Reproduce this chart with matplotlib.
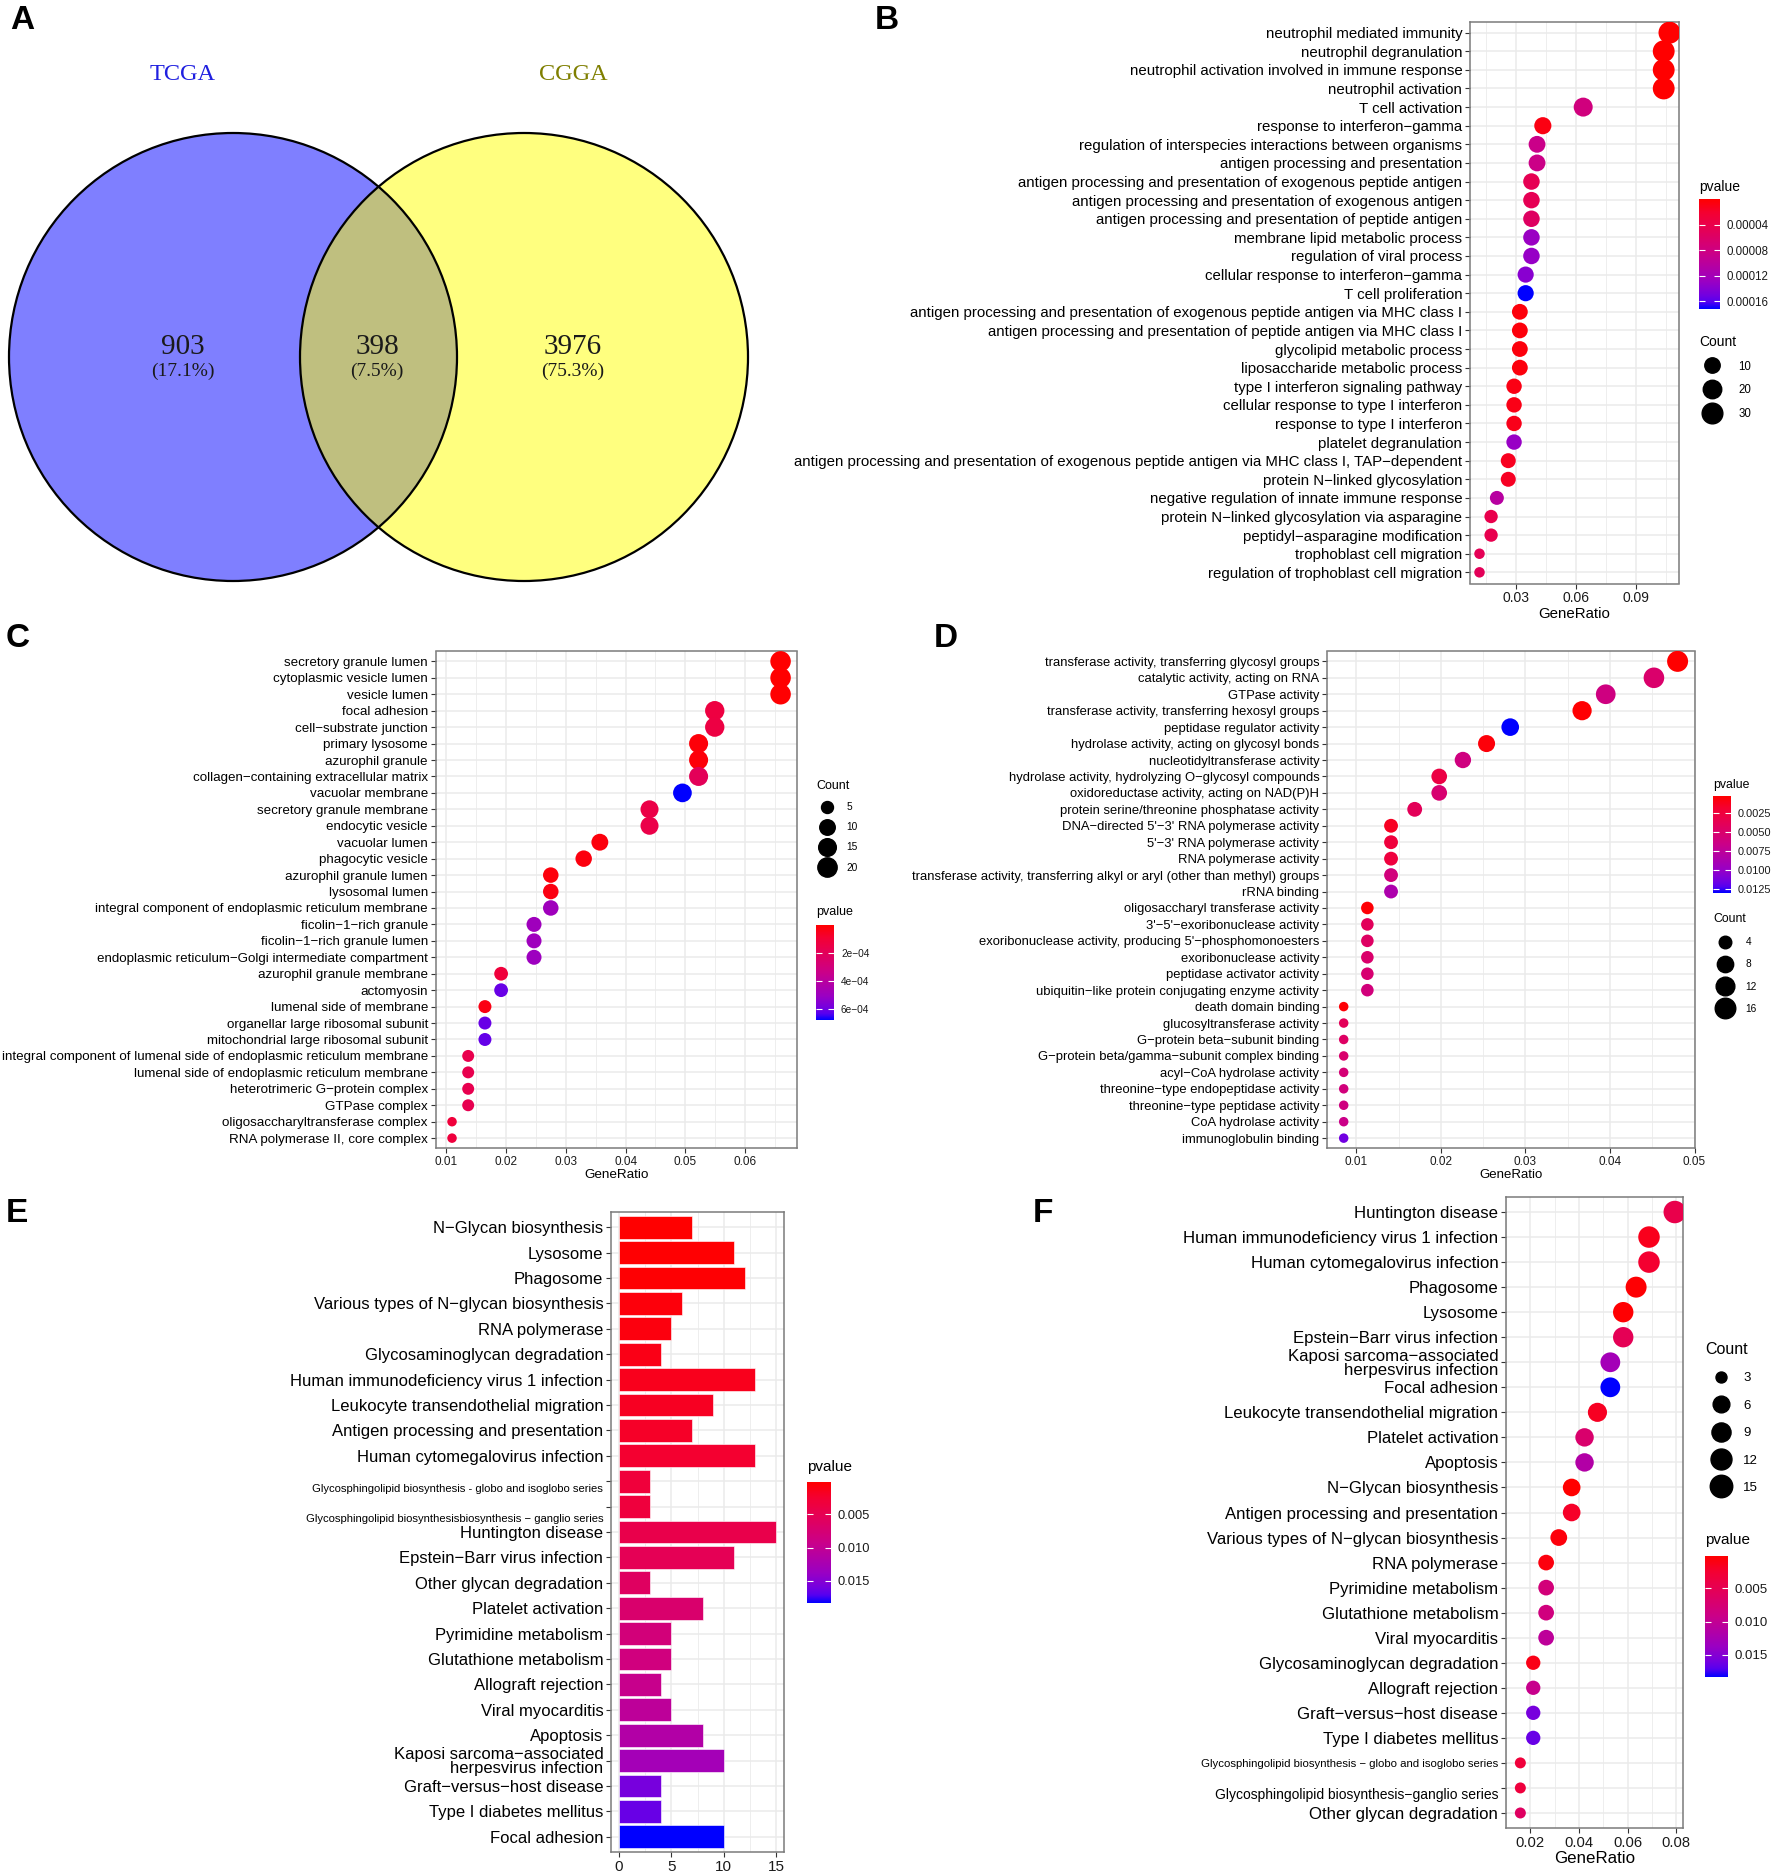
import numpy as np
import matplotlib
matplotlib.use("Agg")
import matplotlib.pyplot as plt
from matplotlib.colors import LinearSegmentedColormap, Normalize
from matplotlib.cm import ScalarMappable
from matplotlib.lines import Line2D
from matplotlib.patches import Circle
from matplotlib.transforms import ScaledTranslation

W, H, DPI = 1772, 1871, 100

# ---------------- data ----------------
venn_names = ["TCGA", "CGGA"]
venn_counts = [903, 398, 3976]  # TCGA only, both, CGGA only

B_terms = [
    "neutrophil mediated immunity",
    "neutrophil degranulation",
    "neutrophil activation involved in immune response",
    "neutrophil activation",
    "T cell activation",
    "response to interferon\u2212gamma",
    "regulation of interspecies interactions between organisms",
    "antigen processing and presentation",
    "antigen processing and presentation of exogenous peptide antigen",
    "antigen processing and presentation of exogenous antigen",
    "antigen processing and presentation of peptide antigen",
    "membrane lipid metabolic process",
    "regulation of viral process",
    "cellular response to interferon\u2212gamma",
    "T cell proliferation",
    "antigen processing and presentation of exogenous peptide antigen via MHC class I",
    "antigen processing and presentation of peptide antigen via MHC class I",
    "glycolipid metabolic process",
    "liposaccharide metabolic process",
    "type I interferon signaling pathway",
    "cellular response to type I interferon",
    "response to type I interferon",
    "platelet degranulation",
    "antigen processing and presentation of exogenous peptide antigen via MHC class I, TAP\u2212dependent",
    "protein N\u2212linked glycosylation",
    "negative regulation of innate immune response",
    "protein N\u2212linked glycosylation via asparagine",
    "peptidyl\u2212asparagine modification",
    "trophoblast cell migration",
    "regulation of trophoblast cell migration",
]
B_count = [37, 36, 36, 36, 22, 15, 14, 14, 13, 13, 13, 13, 13, 12, 12,
           11, 11, 11, 11, 10, 10, 10, 10, 9, 9, 7, 6, 6, 4, 4]
B_ratio = [0.1066, 0.1037, 0.1037, 0.1037, 0.0634, 0.0432, 0.0403, 0.0403,
           0.0375, 0.0375, 0.0375, 0.0375, 0.0375, 0.0346, 0.0346, 0.0317,
           0.0317, 0.0317, 0.0317, 0.0288, 0.0288, 0.0288, 0.0288, 0.0259,
           0.0259, 0.0202, 0.0173, 0.0173, 0.0115, 0.0115]
B_pvalue = [1e-9, 2e-9, 3e-9, 4e-9, 7.7e-5, 8.6e-6, 8.6e-5, 8.4e-5,
            4.6e-5, 4.7e-5, 5.7e-5, 1.29e-4, 1.31e-4, 1.38e-4, 1.72e-4,
            5.0e-6, 5.2e-6, 5.5e-6, 6.0e-6, 9e-6, 1.0e-5, 1.1e-5, 1.30e-4,
            1.4e-5, 1.6e-5, 1.03e-4, 4.1e-5, 4.3e-5, 4.8e-5, 5.0e-5]
B_cbar_ticks = [0.00004, 0.00008, 0.00012, 0.00016]
B_cbar_labels = ["0.00004", "0.00008", "0.00012", "0.00016"]
B_size_breaks = [10, 20, 30]

C_terms = [
    "secretory granule lumen",
    "cytoplasmic vesicle lumen",
    "vesicle lumen",
    "focal adhesion",
    "cell\u2212substrate junction",
    "primary lysosome",
    "azurophil granule",
    "collagen\u2212containing extracellular matrix",
    "vacuolar membrane",
    "secretory granule membrane",
    "endocytic vesicle",
    "vacuolar lumen",
    "phagocytic vesicle",
    "azurophil granule lumen",
    "lysosomal lumen",
    "integral component of endoplasmic reticulum membrane",
    "ficolin\u22121\u2212rich granule",
    "ficolin\u22121\u2212rich granule lumen",
    "endoplasmic reticulum\u2212Golgi intermediate compartment",
    "azurophil granule membrane",
    "actomyosin",
    "lumenal side of membrane",
    "organellar large ribosomal subunit",
    "mitochondrial large ribosomal subunit",
    "integral component of lumenal side of endoplasmic reticulum membrane",
    "lumenal side of endoplasmic reticulum membrane",
    "heterotrimeric G\u2212protein complex",
    "GTPase complex",
    "oligosaccharyltransferase complex",
    "RNA polymerase II, core complex",
]
C_count = [24, 24, 24, 20, 20, 19, 19, 19, 18, 16, 16, 13, 12, 10, 10, 10,
           9, 9, 9, 7, 7, 6, 6, 6, 5, 5, 5, 5, 4, 4]
C_ratio = [0.0659, 0.0659, 0.0659, 0.0549, 0.0549, 0.0522, 0.0522, 0.0522,
           0.0495, 0.0440, 0.0440, 0.0357, 0.0330, 0.0275, 0.0275, 0.0275,
           0.0247, 0.0247, 0.0247, 0.0192, 0.0192, 0.0165, 0.0165, 0.0165,
           0.0137, 0.0137, 0.0137, 0.0137, 0.0110, 0.0110]
C_pvalue = [4e-6, 6e-6, 8e-6, 1.36e-4, 1.40e-4, 2.0e-5, 2.2e-5, 2.0e-4,
            6.8e-4, 1.5e-4, 1.55e-4, 2.7e-5, 3.0e-5, 2.4e-5, 3.4e-5, 4.9e-4,
            4.9e-4, 4.95e-4, 5.0e-4, 1.15e-4, 6.1e-4, 4.0e-5, 6.1e-4, 6.15e-4,
            1.7e-4, 1.72e-4, 1.75e-4, 1.78e-4, 1.2e-4, 1.25e-4]
C_cbar_ticks = [2e-4, 4e-4, 6e-4]
C_cbar_labels = ["2e\u221204", "4e\u221204", "6e\u221204"]
C_size_breaks = [5, 10, 15, 20]

D_terms = [
    "transferase activity, transferring glycosyl groups",
    "catalytic activity, acting on RNA",
    "GTPase activity",
    "transferase activity, transferring hexosyl groups",
    "peptidase regulator activity",
    "hydrolase activity, acting on glycosyl bonds",
    "nucleotidyltransferase activity",
    "hydrolase activity, hydrolyzing O\u2212glycosyl compounds",
    "oxidoreductase activity, acting on NAD(P)H",
    "protein serine/threonine phosphatase activity",
    "DNA\u2212directed 5'\u22123' RNA polymerase activity",
    "5'\u22123' RNA polymerase activity",
    "RNA polymerase activity",
    "transferase activity, transferring alkyl or aryl (other than methyl) groups",
    "rRNA binding",
    "oligosaccharyl transferase activity",
    "3'\u22125'\u2212exoribonuclease activity",
    "exoribonuclease activity, producing 5'\u2212phosphomonoesters",
    "exoribonuclease activity",
    "peptidase activator activity",
    "ubiquitin\u2212like protein conjugating enzyme activity",
    "death domain binding",
    "glucosyltransferase activity",
    "G\u2212protein beta\u2212subunit binding",
    "G\u2212protein beta/gamma\u2212subunit complex binding",
    "acyl\u2212CoA hydrolase activity",
    "threonine\u2212type endopeptidase activity",
    "threonine\u2212type peptidase activity",
    "CoA hydrolase activity",
    "immunoglobulin binding",
]
D_count = [17, 16, 14, 13, 10, 9, 8, 7, 7, 6, 5, 5, 5, 5, 5, 4, 4, 4, 4, 4, 4,
           3, 3, 3, 3, 3, 3, 3, 3, 3]
D_ratio = [0.0480, 0.0452, 0.0395, 0.0367, 0.0282, 0.0254, 0.0226, 0.0198,
           0.0198, 0.0169, 0.0141, 0.0141, 0.0141, 0.0141, 0.0141, 0.0113,
           0.0113, 0.0113, 0.0113, 0.0113, 0.0113, 0.0085, 0.0085, 0.0085,
           0.0085, 0.0085, 0.0085, 0.0085, 0.0085, 0.0085]
D_pvalue = [0.0002, 0.0049, 0.0061, 0.0003, 0.0130, 0.0005, 0.0060, 0.0028,
            0.0052, 0.0039, 0.0013, 0.0024, 0.0025, 0.0058, 0.0085, 0.0004,
            0.0040, 0.0045, 0.0049, 0.0052, 0.0058, 0.0004, 0.0039, 0.0045,
            0.0050, 0.0055, 0.0058, 0.0060, 0.0065, 0.0114]
D_cbar_ticks = [0.0025, 0.0050, 0.0075, 0.0100, 0.0125]
D_cbar_labels = ["0.0025", "0.0050", "0.0075", "0.0100", "0.0125"]
D_size_breaks = [4, 8, 12, 16]

E_terms = [
    "N\u2212Glycan biosynthesis",
    "Lysosome",
    "Phagosome",
    "Various types of N\u2212glycan biosynthesis",
    "RNA polymerase",
    "Glycosaminoglycan degradation",
    "Human immunodeficiency virus 1 infection",
    "Leukocyte transendothelial migration",
    "Antigen processing and presentation",
    "Human cytomegalovirus infection",
    "Glycosphingolipid biosynthesis - globo and isoglobo series",
    "Glycosphingolipid biosynthesisbiosynthesis \u2212 ganglio series",
    "Huntington disease",
    "Epstein\u2212Barr virus infection",
    "Other glycan degradation",
    "Platelet activation",
    "Pyrimidine metabolism",
    "Glutathione metabolism",
    "Allograft rejection",
    "Viral myocarditis",
    "Apoptosis",
    "Kaposi sarcoma\u2212associated\nherpesvirus infection",
    "Graft\u2212versus\u2212host disease",
    "Type I diabetes mellitus",
    "Focal adhesion",
]
E_count = [7, 11, 12, 6, 5, 4, 13, 9, 7, 13, 3, 3, 15, 11, 3, 8, 5, 5, 4, 5,
           8, 10, 4, 4, 10]
E_pvalue = [0.0002, 0.0003, 0.0004, 0.0007, 0.0009, 0.0012, 0.0015, 0.0018,
            0.0021, 0.0024, 0.0033, 0.0034, 0.0045, 0.0052, 0.0060, 0.0070,
            0.0080, 0.0084, 0.0095, 0.0105, 0.0115, 0.0128, 0.0158, 0.0164,
            0.0183]
E_xticks = [0, 5, 10, 15]

F_terms = [
    "Huntington disease",
    "Human immunodeficiency virus 1 infection",
    "Human cytomegalovirus infection",
    "Phagosome",
    "Lysosome",
    "Epstein\u2212Barr virus infection",
    "Kaposi sarcoma\u2212associated\nherpesvirus infection",
    "Focal adhesion",
    "Leukocyte transendothelial migration",
    "Platelet activation",
    "Apoptosis",
    "N\u2212Glycan biosynthesis",
    "Antigen processing and presentation",
    "Various types of N\u2212glycan biosynthesis",
    "RNA polymerase",
    "Pyrimidine metabolism",
    "Glutathione metabolism",
    "Viral myocarditis",
    "Glycosaminoglycan degradation",
    "Allograft rejection",
    "Graft\u2212versus\u2212host disease",
    "Type I diabetes mellitus",
    "Glycosphingolipid biosynthesis \u2212 globo and isoglobo series",
    "Glycosphingolipid biosynthesis\u2212ganglio series",
    "Other glycan degradation",
]
F_count = [15, 13, 13, 12, 11, 11, 10, 10, 9, 8, 8, 7, 7, 6, 5, 5, 5, 5, 4, 4,
           4, 4, 3, 3, 3]
F_ratio = [0.0794, 0.0688, 0.0688, 0.0635, 0.0582, 0.0582, 0.0529, 0.0529,
           0.0476, 0.0423, 0.0423, 0.0370, 0.0370, 0.0317, 0.0265, 0.0265,
           0.0265, 0.0265, 0.0212, 0.0212, 0.0212, 0.0212, 0.0159, 0.0159,
           0.0159]
F_pvalue = [0.0045, 0.0015, 0.0024, 0.0004, 0.0003, 0.0052, 0.0128, 0.0183,
            0.0018, 0.0070, 0.0115, 0.0002, 0.0021, 0.0007, 0.0009, 0.0080,
            0.0084, 0.0105, 0.0012, 0.0095, 0.0158, 0.0164, 0.0033, 0.0034,
            0.0060]
EF_cbar_ticks = [0.005, 0.010, 0.015]
EF_cbar_labels = ["0.005", "0.010", "0.015"]
F_size_breaks = [3, 6, 9, 12, 15]

# ---------------- style ----------------
plt.rcParams["font.family"] = ["Liberation Sans", "DejaVu Sans"]
GRID = "#EBEBEB"
BORDER = "#7A7A7A"
TICK = "#333333"

# ggplot red->blue gradient (interpolated in Lab)
PVAL_CMAP = LinearSegmentedColormap.from_list("pval", [
    (0.0, "#FF0000"), (0.125, "#F40031"), (0.25, "#E8004F"), (0.5, "#CA0089"),
    (0.75, "#9A00C3"), (0.875, "#7300E0"), (0.9375, "#5400F0"), (1.0, "#0000FF")])

fig = plt.figure(figsize=(W / DPI, H / DPI), dpi=DPI)


def px_rect(l, t, r, b):
    return [l / W, 1 - b / H, (r - l) / W, (b - t) / H]


def diam(c, lo, hi, dmin, dmax):
    c = np.clip(np.asarray(c, float), lo, hi)
    return dmin + np.sqrt((c - lo) / (hi - lo)) * (dmax - dmin)


def style_axes(ax, tick_fs, label_fs):
    for s in ax.spines.values():
        s.set_color(BORDER)
        s.set_linewidth(1.1)
    ax.set_axisbelow(True)
    ax.grid(True, which="major", color=GRID, lw=1.1)
    ax.grid(True, which="minor", axis="x", color=GRID, lw=0.6)
    ax.tick_params(which="major", length=3.5, width=0.8, color=TICK, pad=2)
    ax.tick_params(which="minor", length=0)
    ax.tick_params(axis="x", labelsize=tick_fs, labelcolor="#1a1a1a")
    ax.tick_params(axis="y", labelsize=label_fs, labelcolor="black")


def pvalue_bar(norm, rect, title_xy, ticks, labels, title_fs, fs):
    cax = fig.add_axes(px_rect(*rect))
    cb = fig.colorbar(ScalarMappable(norm=norm, cmap=PVAL_CMAP), cax=cax, ticks=ticks)
    cb.ax.invert_yaxis()
    cb.outline.set_visible(False)
    cb.ax.set_yticklabels(labels)
    cb.ax.tick_params(length=4, width=0.8, color="white", direction="in",
                      left=True, right=True, labelsize=fs, pad=5, labelcolor="#1a1a1a")
    fig.text(title_xy[0] / W, 1 - title_xy[1] / H, "pvalue", fontsize=title_fs,
             ha="left", va="top")


def count_legend(breaks, lo, hi, dsize, xy, fs, title_fs, spacing, hl, textpad):
    d = diam(breaks, lo, hi, *dsize)
    handles = [Line2D([], [], ls="", marker="o", color="black",
                      markersize=di * 72 / DPI) for di in d]
    fig.legend(handles, [str(b) for b in breaks], title="Count", loc="upper left",
               bbox_to_anchor=(xy[0] / W, 1 - xy[1] / H), frameon=False,
               alignment="left", fontsize=fs, title_fontsize=title_fs,
               labelspacing=spacing, handlelength=hl, handletextpad=textpad,
               borderpad=0, borderaxespad=0, numpoints=1)


def dot_panel(rect, terms, ratio, count, pval, xticks, xlabels, xminor,
              label_fs, tick_fs, xlab_fs, dsize):
    ax = fig.add_axes(px_rect(*rect))
    n = len(terms)
    y = np.arange(n, 0, -1)
    norm = Normalize(min(pval), max(pval))
    d = diam(count, min(count), max(count), *dsize)
    ax.scatter(ratio, y, s=(d * 72 / DPI) ** 2, c=pval, cmap=PVAL_CMAP, norm=norm,
               linewidths=0, zorder=3)
    span = max(ratio) - min(ratio)
    ax.set_xlim(min(ratio) - 0.05 * span, max(ratio) + 0.05 * span)
    ax.set_ylim(0.4, n + 0.6)
    ax.set_yticks(y)
    ax.set_yticklabels(terms)
    ax.set_xticks(xticks)
    ax.set_xticklabels(xlabels)
    ax.set_xticks(xminor, minor=True)
    style_axes(ax, tick_fs, label_fs)
    ax.set_xlabel("GeneRatio", fontsize=xlab_fs, labelpad=1)
    return ax, norm


def shift_labels(ax, styles):
    # a few pathway labels are smaller and sit a little off their tick
    for lab in ax.get_yticklabels():
        if lab.get_text() in styles:
            fs, dy = styles[lab.get_text()]
            lab.set_fontsize(fs)
            lab.set_transform(lab.get_transform() +
                              ScaledTranslation(0, -dy / DPI, fig.dpi_scale_trans))


# ---------------- A: Venn ----------------
axA = fig.add_axes(px_rect(0, 0, 760, 620))
axA.set_xlim(0, 760)
axA.set_ylim(620, 0)
axA.axis("off")
centers = [(233, 357), (524, 357)]
R = 224
axA.add_patch(Circle(centers[0], R, fc=(0, 0, 1, 0.5), ec="none"))
axA.add_patch(Circle(centers[1], R, fc=(1, 1, 0, 0.5), ec="none"))
for c in centers:
    axA.add_patch(Circle(c, R, fill=False, ec="black", lw=1.6))
serif = ["Liberation Serif", "DejaVu Serif"]
axA.text(183, 74, venn_names[0], color="#2020E0", fontsize=17.5, family=serif,
         ha="center", va="center")
axA.text(573, 74, venn_names[1], color="#7F7F00", fontsize=17.5, family=serif,
         ha="center", va="center")
total = sum(venn_counts)
for x, v in zip([183, 377, 573], venn_counts):
    axA.text(x, 347, str(v), fontsize=21, family=serif, color="#1a1a1a",
             ha="center", va="center")
    axA.text(x, 371, "(%.1f%%)" % (100 * v / total), fontsize=14, family=serif,
             color="#1a1a1a", ha="center", va="center")

# ---------------- B ----------------
B_dot = (10.5, 22)
axB, normB = dot_panel((1470, 21.5, 1679, 583.5), B_terms, B_ratio, B_count, B_pvalue,
                       [0.03, 0.06, 0.09], ["0.03", "0.06", "0.09"],
                       [0.015, 0.045, 0.075, 0.105], 10.8, 10, 10.8, B_dot)
pvalue_bar(normB, (1699, 199, 1720, 309), (1699, 180), B_cbar_ticks, B_cbar_labels, 10, 8.3)
count_legend(B_size_breaks, min(B_count), max(B_count), B_dot, (1699, 335), 8.3, 10,
             1.0, 2.2, 1.2)

# ---------------- C ----------------
C_dot = (9.5, 20.5)
axC, normC = dot_panel((435.6, 651.5, 797, 1148), C_terms, C_ratio, C_count, C_pvalue,
                       [0.01, 0.02, 0.03, 0.04, 0.05, 0.06],
                       ["0.01", "0.02", "0.03", "0.04", "0.05", "0.06"],
                       [0.015, 0.025, 0.035, 0.045, 0.055, 0.065], 9.6, 8.5, 9.7, C_dot)
pvalue_bar(normC, (816, 925, 834, 1020), (816, 906), C_cbar_ticks, C_cbar_labels, 9, 7.3)
count_legend(C_size_breaks, min(C_count), max(C_count), C_dot, (816, 780), 7.3, 9,
             1.0, 2.2, 0.8)

# ---------------- D ----------------
D_dot = (9.5, 21)
axD, normD = dot_panel((1327, 651.5, 1694.5, 1148), D_terms, D_ratio, D_count, D_pvalue,
                       [0.01, 0.02, 0.03, 0.04, 0.05],
                       ["0.01", "0.02", "0.03", "0.04", "0.05"],
                       [0.015, 0.025, 0.035, 0.045], 9.4, 8.5, 9.5, D_dot)
pvalue_bar(normD, (1713, 796, 1731, 893), (1713, 779), D_cbar_ticks, D_cbar_labels, 8.8, 7.9)
count_legend(D_size_breaks, min(D_count), max(D_count), D_dot, (1713, 913), 7.3, 8.8,
             1.2, 2.4, 0.8)

# ---------------- E: bars ----------------
axE = fig.add_axes(px_rect(611, 1212, 784, 1852))
nE = len(E_terms)
yE = np.arange(nE, 0, -1)
normE = Normalize(min(E_pvalue), max(E_pvalue))
axE.barh(yE, E_count, height=0.9, color=PVAL_CMAP(normE(np.array(E_pvalue))),
         edgecolor=(1, 1, 1, 0.6), linewidth=0.7, zorder=3)
axE.set_xlim(-0.75, 15.75)
axE.set_ylim(0.4, nE + 0.6)
axE.set_yticks(yE)
axE.set_yticklabels(E_terms, linespacing=0.95)
axE.set_xticks(E_xticks)
axE.set_xticks([2.5, 7.5, 12.5], minor=True)
style_axes(axE, 11, 12)
shift_labels(axE, {E_terms[10]: (8.1, 7), E_terms[11]: (8.1, 11)})
pvalue_bar(normE, (807, 1482, 831, 1603), (807, 1460), EF_cbar_ticks, EF_cbar_labels, 11, 9.3)

# ---------------- F ----------------
F_dot = (11, 22.5)
axF, normF = dot_panel((1506, 1197, 1682.5, 1828), F_terms, F_ratio, F_count, F_pvalue,
                       [0.02, 0.04, 0.06, 0.08], ["0.02", "0.04", "0.06", "0.08"],
                       [0.01, 0.03, 0.05, 0.07], 12.1, 10.6, 12.2, F_dot)
for lab in axF.get_yticklabels():
    lab.set_linespacing(0.95)
shift_labels(axF, {F_terms[22]: (8.2, 0), F_terms[23]: (10, 6)})
count_legend(F_size_breaks, min(F_count), max(F_count), F_dot, (1705, 1342), 9.5, 11.5,
             1.15, 2.35, 0.55)
pvalue_bar(normF, (1705, 1556, 1728, 1677), (1705, 1533), EF_cbar_ticks, EF_cbar_labels, 11, 9.5)

# ---------------- panel letters ----------------
for letter, (x, y) in zip("ABCDEF", [(10, 5), (875, 5), (6, 623), (934, 623),
                                      (6, 1198), (1033, 1198)]):
    fig.text(x / W, 1 - y / H, letter, fontsize=24, fontweight="bold",
             ha="left", va="top")

fig.savefig("out.png", dpi=DPI)
